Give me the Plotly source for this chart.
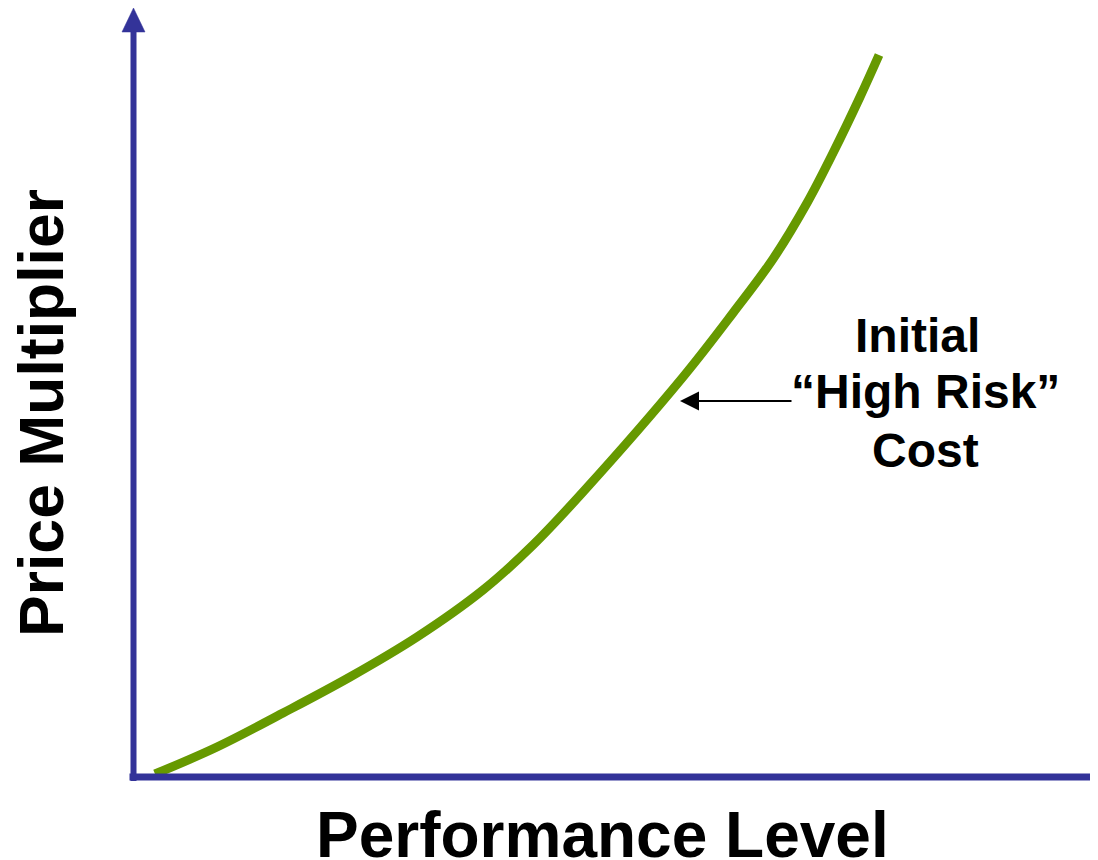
import plotly.graph_objects as go

# Data (arbitrary units: performance level vs price multiplier)
performance = [2.2, 8.4, 15.0, 21.7, 28.4, 35.0, 40.0, 45.0, 55.0, 60.0, 64.0, 67.4, 70.0, 72.7, 74.6]
price_mult = [0.3, 3.0, 6.4, 10.0, 14.0, 18.7, 23.2, 28.5, 40.0, 46.4, 51.8, 57.4, 62.4, 68.0, 72.2]

x_title = "Performance Level"
y_title = "Price Multiplier"
label_lines = ["Initial", "\u201cHigh Risk\u201d", "Cost"]
arrow_point = (54.7, 37.6)

OFF = 8  # default page margin of the html body
W, H = 1098 - OFF, 860 - OFF
AXIS = "#333399"
GREEN = "#669900"
FONT = "Liberation Sans, Arial, sans-serif"

fig = go.Figure()
fig.add_trace(go.Scatter(
    x=performance, y=price_mult, mode="lines",
    line=dict(color=GREEN, width=9, shape="spline", smoothing=1.0),
    hoverinfo="skip", showlegend=False,
))

def px(xp):
    return (xp - OFF) / W

def py(yp):
    return 1 - (yp - OFF) / H

shapes = [
    # y axis
    dict(type="line", xref="x", yref="y", x0=0.05, x1=0.05, y0=-0.4, y1=74.6,
         line=dict(color=AXIS, width=6)),
    # x axis (runs to the right edge of the figure)
    dict(type="line", xref="paper", yref="y", x0=px(129.5), x1=1.0, y0=0, y1=0,
         line=dict(color=AXIS, width=7)),
    # arrowhead on y axis
    dict(type="path", xref="x", yref="y",
         path="M -1.1,74.5 L 1.2,74.5 L 0.05,76.9 Z",
         fillcolor=AXIS, line=dict(color=AXIS, width=0.5)),
]

annotations = [
    dict(text=f"<b>{x_title}</b>", xref="paper", yref="paper",
         x=px(603), y=py(834.5), xanchor="center", yanchor="middle",
         showarrow=False, font=dict(family=FONT, size=64, color="black")),
    dict(text=f"<b>{y_title}</b>", xref="paper", yref="paper",
         x=px(41), y=py(413), xanchor="center", yanchor="middle", textangle=-90,
         showarrow=False, font=dict(family=FONT, size=62.5, color="black")),
]
label_pos = [(917.5, 335.5), (925.5, 391.5), (925, 450.5)]
for t, (lx, ly) in zip(label_lines, label_pos):
    annotations.append(dict(text=f"<b>{t}</b>", xref="paper", yref="paper",
                            x=px(lx), y=py(ly), xanchor="center", yanchor="middle",
                            showarrow=False,
                            font=dict(family=FONT, size=48, color="black")))
annotations.append(dict(
    text="", x=arrow_point[0], y=arrow_point[1], xref="x", yref="y",
    showarrow=True, ax=113, ay=0, arrowhead=2, arrowsize=1.9, arrowwidth=2,
    arrowcolor="black", standoff=0,
))

fig.update_layout(
    width=W, height=H,
    margin=dict(l=0, r=0, t=0, b=0),
    paper_bgcolor="white", plot_bgcolor="white",
    xaxis=dict(range=[(OFF - 133) / 10, (1098 - 133) / 10], visible=False, fixedrange=True),
    yaxis=dict(range=[(777 - 860) / 10, (777 - OFF) / 10], visible=False, fixedrange=True),
    shapes=shapes, annotations=annotations,
)

fig.write_html("out.html")
